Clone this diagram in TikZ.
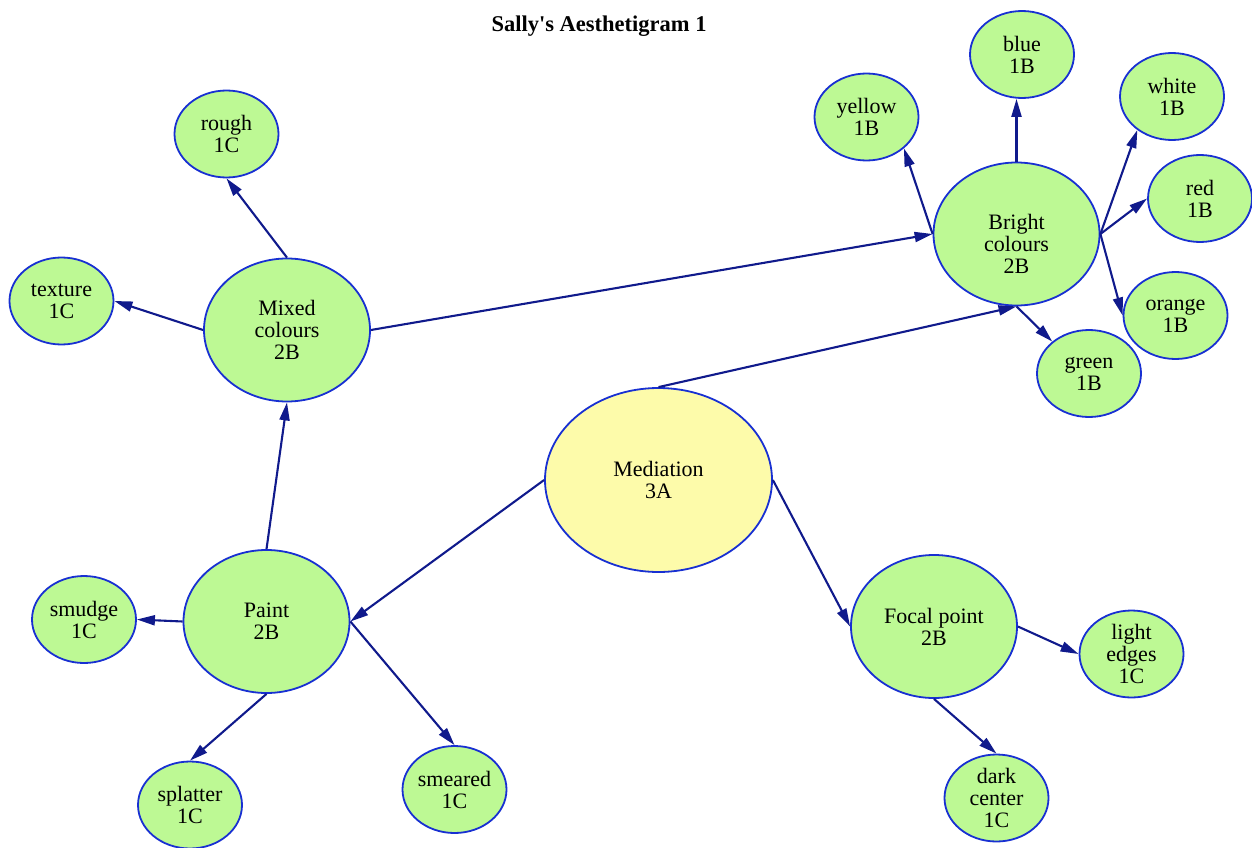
\documentclass[tikz,border=0pt]{standalone}
\usepackage{fontspec}
\setmainfont{Liberation Serif}
\usetikzlibrary{shapes.geometric,arrows.meta}
\definecolor{nodeborder}{RGB}{24,48,210}
\definecolor{edgecol}{RGB}{16,26,140}
\definecolor{greenfill}{RGB}{189,249,148}
\definecolor{yellowfill}{RGB}{253,251,170}
\tikzset{
  nodefont/.style={font=\fontsize{22}{22}\selectfont},
  concept/.style={ellipse, draw=nodeborder, line width=1.8pt, fill=greenfill,
    inner sep=0pt, align=center, nodefont},
  big/.style={concept, minimum width=166pt, minimum height=143pt},
  small/.style={concept, minimum width=104pt, minimum height=87pt},
  core/.style={concept, fill=yellowfill, minimum width=227pt, minimum height=184pt},
  link/.style={draw=edgecol, line width=2.1pt, -{Triangle[length=18pt,width=10pt]}},
}
\begin{document}
\begin{tikzpicture}[x=1pt,y=-1pt]
\useasboundingbox (0,0) rectangle (1252,848);
\node[font=\fontsize{22.5}{24}\selectfont\bfseries] (title) at (599,26) {Sally\textquotesingle s Aesthetigram 1};

\node[core] (med) at (658.5,480) {Mediation\\3A};
\node[big, label={[name=brighttext, align=center, nodefont, yshift=-10pt]center:Bright\\colours\\2B}] (bright) at (1016.5,234) {};
\node[big] (mixed) at (287,330) {Mixed\\colours\\2B};
\node[big] (paint) at (266.5,621.5) {Paint\\2B};
\node[big] (focal) at (934,626.5) {Focal point\\2B};

\node[small] (blue) at (1022,54.5) {blue\\1B};
\node[small] (yellow) at (866.5,117) {yellow\\1B};
\node[small] (white) at (1172,96.5) {white\\1B};
\node[small] (red) at (1200,198.5) {red\\1B};
\node[small] (orange) at (1175.5,315.5) {orange\\1B};
\node[small] (green) at (1089,373.5) {green\\1B};
\node[small] (rough) at (226.5,134) {rough\\1C};
\node[small] (texture) at (61.5,301) {texture\\1C};
\node[small] (smudge) at (84,619.5) {smudge\\1C};
\node[small] (splatter) at (190,805) {splatter\\1C};
\node[small] (smeared) at (454.5,789.5) {smeared\\1C};
\node[small] (light) at (1131.5,654) {light\\edges\\1C};
\node[small] (dark) at (996.5,798) {dark\\center\\1C};

\draw[link] (med.north) -- (bright.south);
\draw[link] (med.west) -- (paint.east);
\draw[link] (med.east) -- (focal.west);
\draw[link] (mixed.east) -- (bright.west);
\draw[link] (mixed.north) -- (rough.south);
\draw[link] (mixed.west) -- (texture.east);
\draw[link] (paint.north) -- (mixed.south);
\draw[link] (paint.west) -- (smudge.east);
\draw[link] (paint.south) -- (splatter.north);
\draw[link] (paint.east) -- (smeared.north);
\draw[link] (focal.east) -- (light.west);
\draw[link] (focal.south) -- (dark.north);
\draw[link] (bright.west) -- (yellow.-40);
\draw[link] (bright.north) -- (bright.north |- blue.south);
\draw[link] (bright.east) -- (white.-136);
\draw[link] (bright.east) -- (red.west);
\draw[link] (bright.east) -- (orange.west);
\draw[link] (bright.south) -- (green.139);
\end{tikzpicture}
\end{document}
